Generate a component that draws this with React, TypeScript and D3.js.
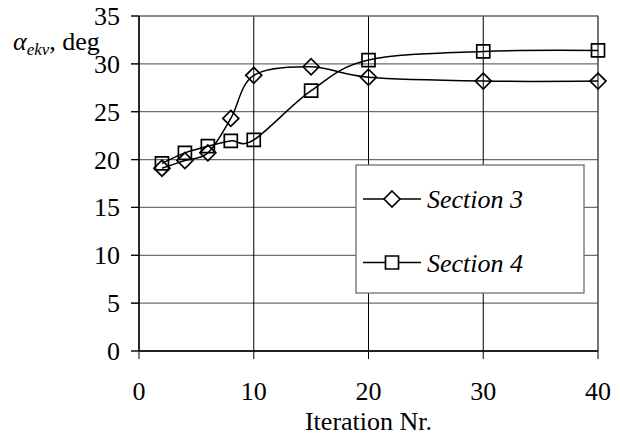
import React from "react";
import * as d3 from "d3";

const iterations = [2, 4, 6, 8, 10, 15, 20, 30, 40];
const section3 = [19.1, 19.9, 20.7, 24.3, 28.8, 29.7, 28.6, 28.2, 28.2];
const section4 = [19.6, 20.7, 21.4, 21.95, 22.05, 27.2, 30.4, 31.3, 31.4];
const seriesNames = ["Section 3", "Section 4"];
const xTicks = [0, 10, 20, 30, 40];
const yTicks = [0, 5, 10, 15, 20, 25, 30, 35];

const width = 620;
const height = 437;
const margin = { top: 16, right: 22, bottom: 86, left: 139 };
const boundedWidth = width - margin.left - margin.right;
const boundedHeight = height - margin.top - margin.bottom;

const font = "Liberation Serif";
const gridGray = "#6e6e6e";

const xScale = d3.scaleLinear().domain([0, 40]).range([0, boundedWidth]);
const yScale = d3.scaleLinear().domain([0, 35]).range([boundedHeight, 0]);

const lineGenerator = d3
  .line<[number, number]>()
  .x((d) => xScale(d[0]))
  .y((d) => yScale(d[1]))
  .curve(d3.curveCardinal.tension(0));

const diamond = (s: number) => `M0,${-s}L${s},0L0,${s}L${-s},0Z`;
const square = (s: number) => `M${-s},${-s}H${s}V${s}H${-s}Z`;
const markers = [diamond(8), square(6.5)];

const seriesData = [section3, section4].map((vals) =>
  iterations.map((it, i) => [it, vals[i]] as [number, number])
);

export default function App() {
  return (
    <svg
      width={width}
      height={height}
      fontFamily={font}
      style={{ position: "absolute", left: 0, top: 0, background: "#fff" }}
    >
      <g transform={`translate(${margin.left}, ${margin.top})`}>
        {yTicks.map((t) => (
          <line key={`h${t}`} x1={-8} x2={boundedWidth} y1={yScale(t)} y2={yScale(t)} stroke={gridGray} strokeWidth={1.2} />
        ))}
        {xTicks.map((t) => (
          <line key={`v${t}`} x1={xScale(t)} x2={xScale(t)} y1={0} y2={boundedHeight + 8} stroke="#000" strokeWidth={1} />
        ))}
        <rect width={boundedWidth} height={boundedHeight} fill="none" stroke={gridGray} strokeWidth={1.2} />
        <line x1={0} x2={0} y1={0} y2={boundedHeight} stroke="#000" strokeWidth={1.3} />
        <line x1={0} x2={boundedWidth} y1={boundedHeight} y2={boundedHeight} stroke="#000" strokeWidth={1.3} />
        {yTicks.map((t) => (
          <line key={`yt${t}`} x1={-8} x2={0} y1={yScale(t)} y2={yScale(t)} stroke="#000" strokeWidth={1.2} />
        ))}
        {yTicks.map((t) => (
          <text key={`yl${t}`} x={-19} y={yScale(t) + 9} textAnchor="end" fontSize={26} fontFamily={font}>
            {t}
          </text>
        ))}
        {xTicks.map((t) => (
          <text key={`xl${t}`} x={xScale(t)} y={boundedHeight + 49} textAnchor="middle" fontSize={26} fontFamily={font}>
            {t}
          </text>
        ))}

        {seriesData.map((pts, si) => (
          <path key={`l${si}`} d={lineGenerator(pts) ?? ""} fill="none" stroke="#000" strokeWidth={1.5} />
        ))}
        {seriesData.map((pts, si) =>
          pts.map((d, i) => (
            <path
              key={`m${si}-${i}`}
              transform={`translate(${xScale(d[0])}, ${yScale(d[1])})`}
              d={markers[si]}
              fill="none"
              stroke="#000"
              strokeWidth={1.7}
            />
          ))
        )}
      </g>

      <g transform="translate(356, 165)">
        <rect width={228} height={128} fill="#fff" stroke={gridGray} strokeWidth={1.3} />
        {seriesNames.map((name, i) => {
          const y = 34 + i * 63.5;
          return (
            <g key={name}>
              <line x1={7} x2={65} y1={y} y2={y} stroke="#000" strokeWidth={1.6} />
              <path transform={`translate(36, ${y})`} d={markers[i]} fill="#fff" stroke="#000" strokeWidth={1.7} />
              <text x={71} y={y + 9} fontFamily={font} fontSize={26} fontStyle="italic">
                {name}
              </text>
            </g>
          );
        })}
      </g>

      <text x={margin.left + boundedWidth / 2} y={430} textAnchor="middle" fontFamily={font} fontSize={26}>
        Iteration Nr.
      </text>
      <text x={13} y={50} fontFamily={font} fontSize={26}>
        <tspan fontStyle="italic">α</tspan>
        <tspan dy={5} fontSize={17} fontStyle="italic">ekv</tspan>
        <tspan dy={-5}>, deg</tspan>
      </text>
    </svg>
  );
}
